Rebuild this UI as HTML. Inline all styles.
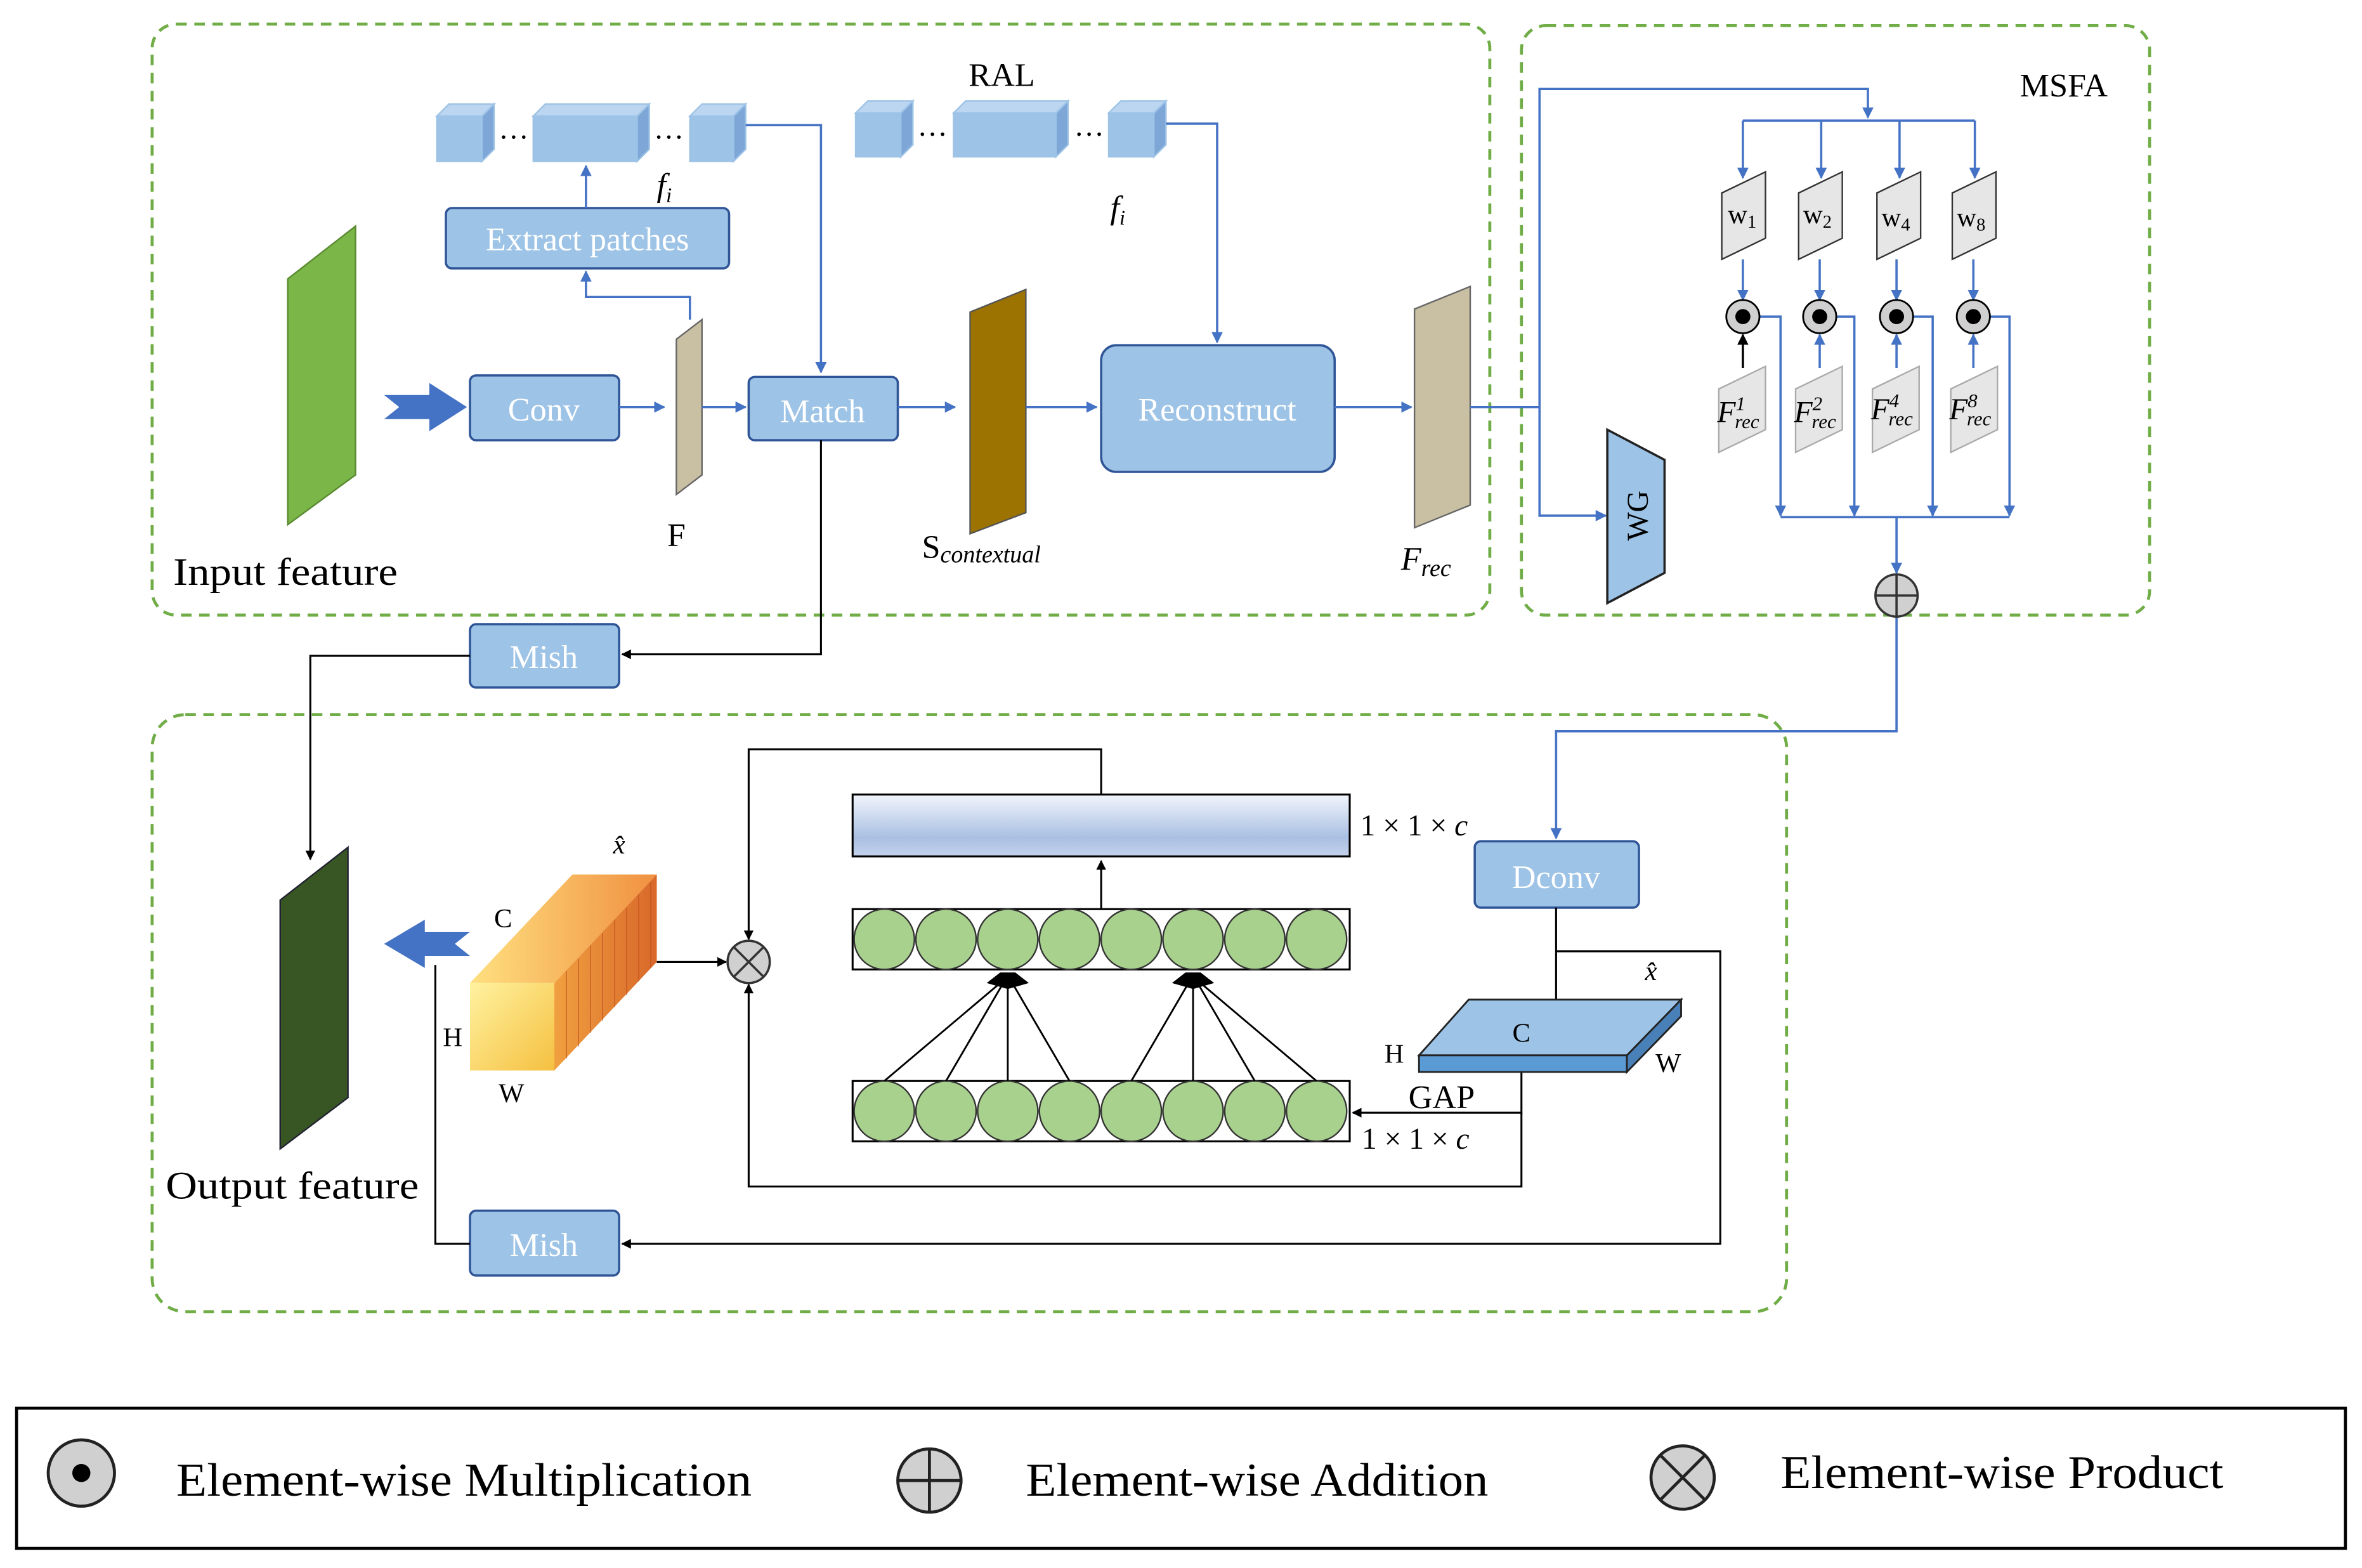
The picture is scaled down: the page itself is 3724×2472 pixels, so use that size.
<!DOCTYPE html>
<html><head><meta charset="utf-8"><style>html,body{margin:0;padding:0;background:#fff}svg{display:block}svg text{font-family:"Liberation Serif","DejaVu Serif",serif}</style></head>
<body>
<svg width="3724" height="2472" viewBox="0 0 1568 1040" preserveAspectRatio="none" xmlns="http://www.w3.org/2000/svg" font-family="'Liberation Serif',serif">
<defs>
<marker id="ab" viewBox="0 0 10 10" refX="9" refY="5" markerWidth="5" markerHeight="5" orient="auto"><path d="M0,0L10,5L0,10z" fill="#4472c4"/></marker>
<marker id="ak" viewBox="0 0 10 10" refX="9" refY="5" markerWidth="5" markerHeight="5" orient="auto"><path d="M0,0L10,5L0,10z" fill="#000"/></marker>
<linearGradient id="bar" x1="0" y1="0" x2="0" y2="1"><stop offset="0" stop-color="#f2f5fc"/><stop offset="0.7" stop-color="#a9bfe2"/><stop offset="1" stop-color="#c5d3ec"/></linearGradient>
<linearGradient id="cub" x1="0" y1="0" x2="1" y2="1"><stop offset="0" stop-color="#fff2a0"/><stop offset="1" stop-color="#f5c040"/></linearGradient>
<linearGradient id="cubs" x1="0" y1="0" x2="1" y2="0"><stop offset="0" stop-color="#f0a040"/><stop offset="1" stop-color="#d9682a"/></linearGradient>
<linearGradient id="cubt" x1="0" y1="0" x2="1" y2="0"><stop offset="0" stop-color="#ffe080"/><stop offset="1" stop-color="#f09040"/></linearGradient>
</defs>
<g fill="none" stroke="#70ad47" stroke-width="2" stroke-dasharray="7,5">
<rect x="101" y="16" width="888" height="392" rx="16"/>
<rect x="1010" y="17" width="417" height="391" rx="16"/>
<rect x="101" y="474" width="1085" height="396" rx="22"/>
</g>
<rect x="11" y="934" width="1546" height="93" fill="none" stroke="#000" stroke-width="2"/>

<polygon points="191,185 236,150 236,315 191,348" fill="#7ab648" stroke="#5a8a30"/>
<text x="115" y="388" font-size="26" textLength="149" lengthAdjust="spacingAndGlyphs">Input feature</text>
<polygon points="255,262 285,262 285,254 310,270 285,286 285,278 255,278 265,270" fill="#4472c4"/>
<g fill="#9dc3e6" stroke="#2f5597" stroke-width="1.5">
<rect x="312" y="249" width="99" height="43" rx="4"/>
<rect x="296" y="138" width="188" height="40" rx="4"/>
<rect x="497" y="250" width="99" height="42" rx="4"/>
<rect x="731" y="229" width="155" height="84" rx="10"/>
<rect x="312" y="414" width="99" height="42" rx="4"/>
<rect x="979" y="558" width="109" height="44" rx="4"/>
<rect x="312" y="803" width="99" height="43" rx="4"/>
</g>
<g fill="#fff" font-size="22" text-anchor="middle">
<text x="361" y="279">Conv</text>
<text x="390" y="166">Extract patches</text>
<text x="546" y="280">Match</text>
<text x="808" y="279">Reconstruct</text>
<text x="361" y="443">Mish</text>
<text x="1033" y="589">Dconv</text>
<text x="361" y="833">Mish</text>
</g>
<polygon points="449,225 466,212 466,315 449,328" fill="#c9bfa3" stroke="#666"/>
<text x="449" y="362" font-size="22" text-anchor="middle">F</text>
<polygon points="644,207 681,192 681,340 644,354" fill="#9c7200" stroke="#555"/>
<text x="612" y="370" font-size="22">S<tspan font-size="16" font-style="italic" dy="3">contextual</tspan></text>
<polygon points="939,205 976,190 976,335 939,350" fill="#c9bfa3" stroke="#666"/>
<text x="930" y="378" font-size="22" font-style="italic">F<tspan font-size="16" dy="4">rec</tspan></text>

<g fill="#9dc3e6" stroke="#9dc3e6">
<rect x="290" y="77" width="30" height="30"/><polygon points="320,77 328,69 328,99 320,107" fill="#7ea6d6"/><polygon points="290,77 298,69 328,69 320,77" fill="#bcd5f0"/>
<rect x="354" y="77" width="69" height="30"/><polygon points="423,77 431,69 431,99 423,107" fill="#7ea6d6"/><polygon points="354,77 362,69 431,69 423,77" fill="#bcd5f0"/>
<rect x="458" y="77" width="29" height="30"/><polygon points="487,77 495,69 495,99 487,107" fill="#7ea6d6"/><polygon points="458,77 466,69 495,69 487,77" fill="#bcd5f0"/>
<rect x="568" y="75" width="30" height="29"/><polygon points="598,75 606,67 606,96 598,104" fill="#7ea6d6"/><polygon points="568,75 576,67 606,67 598,75" fill="#bcd5f0"/>
<rect x="633" y="75" width="68" height="29"/><polygon points="701,75 709,67 709,96 701,104" fill="#7ea6d6"/><polygon points="633,75 641,67 709,67 701,75" fill="#bcd5f0"/>
<rect x="736" y="75" width="30" height="29"/><polygon points="766,75 774,67 774,96 766,104" fill="#7ea6d6"/><polygon points="736,75 744,67 774,67 766,75" fill="#bcd5f0"/>
</g>
<g font-size="20"><text x="331" y="92">…</text><text x="434" y="92">…</text><text x="609" y="90">…</text><text x="713" y="90">…</text></g>
<text x="436" y="130" font-size="22" font-style="italic">f<tspan font-size="14" dy="4">i</tspan></text>
<text x="737" y="145" font-size="22" font-style="italic">f<tspan font-size="14" dy="4">i</tspan></text>
<text x="665" y="57" font-size="22" text-anchor="middle">RAL</text>
<text x="1370" y="64" font-size="22" text-anchor="middle">MSFA</text>

<g fill="none" stroke="#4472c4" stroke-width="1.5" marker-end="url(#ab)">
<path d="M411,270H441"/>
<path d="M458,212V197H389V180"/>
<path d="M389,138V110"/>
<path d="M495,83H545V247"/>
<path d="M466,270H495"/>
<path d="M596,270H634"/>
<path d="M681,270H728"/>
<path d="M774,82H808V227"/>
<path d="M886,270H937"/>
<path d="M976,270H1022V59H1240V78"/>
<path d="M1022,270V342H1066"/>
<path d="M1157,80V118"/><path d="M1209,80V118"/><path d="M1261,80V118"/><path d="M1311,80V118"/>
<path d="M1157,172V199"/><path d="M1208,172V199"/><path d="M1259,172V199"/><path d="M1310,172V199"/>
<path d="M1208,244V222"/><path d="M1259,244V222"/><path d="M1310,244V222"/>
<path d="M1168,210H1182V342"/><path d="M1219,210H1231V342"/><path d="M1270,210H1283V342"/><path d="M1321,210H1334V342"/>
<path d="M1259,343V380"/>
<path d="M1259,409V485H1033V556"/>
</g>
<path d="M1157,80H1311M1182,343H1334" stroke="#4472c4" stroke-width="1.5"/>
<path d="M1157,244V222" stroke="#000" stroke-width="1.5" marker-end="url(#ak)"/>
<polygon points="1067,285 1105,305 1105,380 1067,400" fill="#9dc3e6" stroke="#222" stroke-width="1.5"/>
<text x="1094" y="342" font-size="20" text-anchor="middle" transform="rotate(-90 1094 342)">WG</text>
<g fill="#e7e6e6" stroke="#333" stroke-width="1">
<polygon points="1143,128 1172,114 1172,158 1143,172"/>
<polygon points="1194,128 1223,114 1223,158 1194,172"/>
<polygon points="1246,128 1275,114 1275,158 1246,172"/>
<polygon points="1296,128 1325,114 1325,158 1296,172"/>
</g>
<g font-size="18"><text x="1147" y="148">w<tspan font-size="12" dy="3">1</tspan></text><text x="1197" y="148">w<tspan font-size="12" dy="3">2</tspan></text><text x="1249" y="150">w<tspan font-size="12" dy="3">4</tspan></text><text x="1299" y="150">w<tspan font-size="12" dy="3">8</tspan></text></g>
<g fill="#e7e6e6" stroke="#aaa">
<polygon points="1141,258 1172,243 1172,285 1141,300"/>
<polygon points="1192,258 1223,243 1223,285 1192,300"/>
<polygon points="1243,258 1274,243 1274,285 1243,300"/>
<polygon points="1295,258 1326,243 1326,285 1295,300"/>
</g>
<g font-size="20" font-style="italic"><text x="1140" y="280">F<tspan font-size="13" dy="-8">1</tspan><tspan font-size="13" dy="12" dx="-7">rec</tspan></text>
<text x="1191" y="280">F<tspan font-size="13" dy="-8">2</tspan><tspan font-size="13" dy="12" dx="-7">rec</tspan></text>
<text x="1242" y="278">F<tspan font-size="13" dy="-8">4</tspan><tspan font-size="13" dy="12" dx="-7">rec</tspan></text>
<text x="1294" y="278">F<tspan font-size="13" dy="-8">8</tspan><tspan font-size="13" dy="12" dx="-7">rec</tspan></text></g>
<g stroke="#000" stroke-width="1.2" fill="#d0d0d0">
<circle cx="1157" cy="210" r="11"/><circle cx="1208" cy="210" r="11"/><circle cx="1259" cy="210" r="11"/><circle cx="1310" cy="210" r="11"/>
</g>
<g fill="#000"><circle cx="1157" cy="210" r="5"/><circle cx="1208" cy="210" r="5"/><circle cx="1259" cy="210" r="5"/><circle cx="1310" cy="210" r="5"/></g>
<circle cx="1259" cy="395" r="14" fill="#d0d0d0" stroke="#333" stroke-width="1.5"/>
<path d="M1245,395H1273M1259,381V409" stroke="#333" stroke-width="1.5"/>

<g fill="none" stroke="#000" stroke-width="1.3" marker-end="url(#ak)">
<path d="M545,292V434H413"/>
<path d="M312,435H206V570"/>
<path d="M436,638H482"/>
<path d="M731,527V497H497V623"/>
<path d="M731,603V571"/>
<path d="M1033,602V680"/>
<path d="M1033,631H1142V825H413"/>
<path d="M1010,711V738H898"/>
<path d="M1010,738V787H497V653"/>
</g>
<path d="M312,825H289V640" stroke="#000" stroke-width="1.3" fill="none"/>

<polygon points="186,597 231,562 231,728 186,762" fill="#375623" stroke="#223"/>
<text x="110" y="795" font-size="26" textLength="168" lengthAdjust="spacingAndGlyphs">Output feature</text>
<polygon points="312,618 282,618 282,610 255,626 282,642 282,634 312,634 302,626" fill="#4472c4"/>
<polygon points="312,652 368,652 436,580 380,580" fill="url(#cubt)"/>
<polygon points="368,652 436,580 436,638 368,710" fill="url(#cubs)"/>
<rect x="312" y="652" width="56" height="58" fill="url(#cub)"/>
<g stroke="#c05020" stroke-width="0.8" opacity="0.6"><path d="M376,644V702M384,636V694M392,627V685M400,619V677M408,610V668M416,602V660M424,593V651M432,585V642"/></g>
<g font-size="18"><text x="328" y="615">C</text><text x="294" y="694">H</text><text x="331" y="731">W</text><text x="407" y="566" font-style="italic">x̂</text></g>
<circle cx="497" cy="638" r="14" fill="#d0d0d0" stroke="#333" stroke-width="1.5"/>
<path d="M487,628L507,648M507,628L487,648" stroke="#333" stroke-width="1.5"/>

<rect x="566" y="527" width="330" height="41" fill="url(#bar)" stroke="#000" stroke-width="1.3"/>
<text x="903" y="554" font-size="20">1 × 1 × <tspan font-style="italic">c</tspan></text>
<rect x="566" y="603" width="330" height="40" fill="#fff" stroke="#000" stroke-width="1.3"/>
<rect x="566" y="717" width="330" height="40" fill="#fff" stroke="#000" stroke-width="1.3"/>
<g fill="#a9d18e" stroke="#333" stroke-width="1">
<ellipse cx="587" cy="623" rx="20" ry="20"/><ellipse cx="628" cy="623" rx="20" ry="20"/><ellipse cx="669" cy="623" rx="20" ry="20"/><ellipse cx="710" cy="623" rx="20" ry="20"/><ellipse cx="751" cy="623" rx="20" ry="20"/><ellipse cx="792" cy="623" rx="20" ry="20"/><ellipse cx="833" cy="623" rx="20" ry="20"/><ellipse cx="874" cy="623" rx="20" ry="20"/>
<ellipse cx="587" cy="737" rx="20" ry="20"/><ellipse cx="628" cy="737" rx="20" ry="20"/><ellipse cx="669" cy="737" rx="20" ry="20"/><ellipse cx="710" cy="737" rx="20" ry="20"/><ellipse cx="751" cy="737" rx="20" ry="20"/><ellipse cx="792" cy="737" rx="20" ry="20"/><ellipse cx="833" cy="737" rx="20" ry="20"/><ellipse cx="874" cy="737" rx="20" ry="20"/>
</g>
<g stroke="#000" stroke-width="1.2">
<path d="M587,717L664,652M628,717L666,652M669,717V652M710,717L672,652"/>
<path d="M751,717L789,652M792,717V652M833,717L795,652M874,717L797,652"/>
</g>
<polygon points="655,652 664,645 674,645 683,652 669,656" fill="#000"/>
<polygon points="778,652 787,645 797,645 806,652 792,656" fill="#000"/>
<text x="904" y="762" font-size="20">1 × 1 × <tspan font-style="italic">c</tspan></text>
<text x="935" y="735" font-size="22">GAP</text>
<polygon points="942,700 975,663 1116,663 1080,700" fill="#9dc3e6" stroke="#222" stroke-width="1.2"/>
<polygon points="942,700 1080,700 1080,711 942,711" fill="#5b9bd5" stroke="#222" stroke-width="1.2"/>
<polygon points="1080,700 1116,663 1116,674 1080,711" fill="#4a80b8" stroke="#222" stroke-width="1.2"/>
<g font-size="18"><text x="1004" y="691">C</text><text x="919" y="705">H</text><text x="1099" y="711">W</text><text x="1092" y="650" font-style="italic">x̂</text></g>

<circle cx="54" cy="977" r="22" fill="#d0d0d0" stroke="#222" stroke-width="2"/><circle cx="54" cy="977" r="6" fill="#000"/>
<text x="117" y="992" font-size="31" textLength="382" lengthAdjust="spacingAndGlyphs">Element-wise Multiplication</text>
<circle cx="617" cy="982" r="21" fill="#d0d0d0" stroke="#222" stroke-width="2"/><path d="M596,982H638M617,961V1003" stroke="#222" stroke-width="2"/>
<text x="681" y="992" font-size="31" textLength="307" lengthAdjust="spacingAndGlyphs">Element-wise Addition</text>
<circle cx="1117" cy="980" r="21" fill="#d0d0d0" stroke="#222" stroke-width="2"/><path d="M1102,965L1132,995M1132,965L1102,995" stroke="#222" stroke-width="2"/>
<text x="1182" y="987" font-size="31" textLength="294" lengthAdjust="spacingAndGlyphs">Element-wise Product</text>
</svg>
</body></html>
